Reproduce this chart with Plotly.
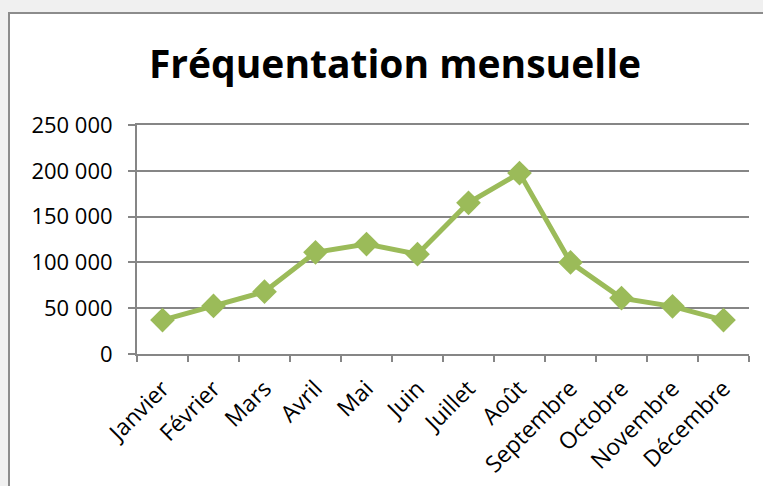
import plotly.graph_objects as go

months = ["Janvier", "Février", "Mars", "Avril", "Mai", "Juin", "Juillet",
          "Août", "Septembre", "Octobre", "Novembre", "Décembre"]
visits = [37000, 52500, 68000, 111000, 120000, 109000, 165000,
          197500, 100000, 61000, 52000, 37000]
y_ticks = [0, 50000, 100000, 150000, 200000, 250000]
y_ticktext = ["0", "50 000", "100 000", "150 000", "200 000", "250 000"]

W, H = 763, 486
L, R, T, B = 137, 14, 125, 132

fig = go.Figure()
fig.add_trace(go.Scatter(
    x=months, y=visits, mode="lines+markers",
    line=dict(color="#9BBB59", width=5),
    marker=dict(symbol="diamond", size=19, color="#9BBB59"),
    hoverinfo="x+y",
))

pw = W - L - R
ph = H - T - B
def px_x(p):
    return (p - L) / pw
def px_y(p):
    return (H - B - p) / ph

fig.add_shape(type="rect", xref="paper", yref="paper",
              x0=px_x(9), x1=px_x(W + 20), y0=px_y(H + 20), y1=px_y(13),
              fillcolor="white", line=dict(color="#8c8c8c", width=2),
              layer="below")

fig.update_layout(
    width=W, height=H,
    margin=dict(l=L, r=R, t=T, b=B, pad=0, autoexpand=False),
    paper_bgcolor="#f0f0f0",
    plot_bgcolor="rgba(0,0,0,0)",
    font=dict(family="Open Sans", size=21, color="black"),
    title=dict(text="<b>Fréquentation mensuelle</b>",
               font=dict(family="Open Sans", size=39, color="black"),
               x=(145 + 645) / 2 / W, xanchor="center",
               y=1 - 64 / H, yanchor="middle"),
    showlegend=False,
    xaxis=dict(
        type="category", range=[-0.5, 11.5], automargin=False,
        showgrid=False, showline=True, linecolor="#868686", linewidth=2,
        mirror=True,
        ticks="outside", ticklen=6, tickcolor="#868686", tickwidth=2,
        tickson="boundaries", tickangle=-45, ticklabelstandoff=10,
        tickfont=dict(size=23),
    ),
    yaxis=dict(
        range=[0, 250000], tickvals=y_ticks, ticktext=y_ticktext,
        automargin=False,
        showgrid=True, gridcolor="#868686", gridwidth=2,
        showline=True, linecolor="#868686", linewidth=2,
        ticks="outside", ticklen=7, tickcolor="#868686", tickwidth=2,
        ticklabelstandoff=11,
        zeroline=False, tickfont=dict(size=22),
    ),
)

fig.write_html(
    "out.html",
    config={"displayModeBar": False},
    post_script="document.body.style.margin='0';"
                "document.body.style.overflow='hidden';"
                "document.body.style.background='#f0f0f0';",
)
